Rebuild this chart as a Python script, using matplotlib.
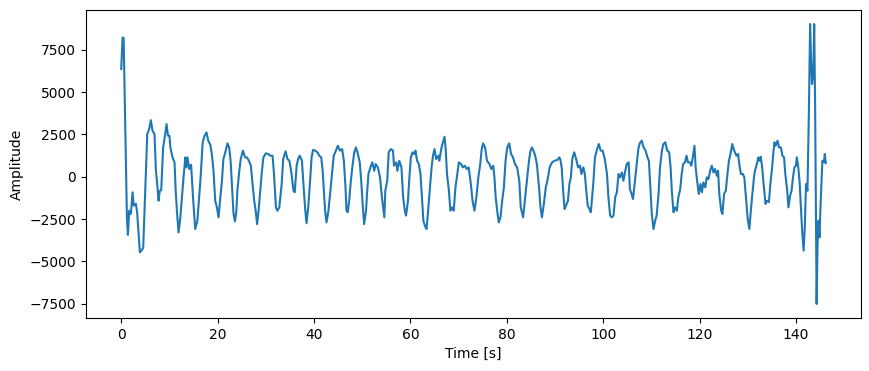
import matplotlib
matplotlib.use("Agg")
import matplotlib.pyplot as plt

# values
time = [0.0, 0.28, 0.5, 1.18, 1.38, 1.66, 2.0, 2.35, 2.6, 3.04, 3.3, 3.87, 4.29, 4.56,
        4.98, 5.4, 5.8, 6.15, 6.5, 6.9, 7.2, 7.47, 7.75, 8.0, 8.3, 8.7, 9.13, 9.4,
        9.7, 10.0, 10.2, 10.65, 11.06, 11.3, 11.6, 11.9, 12.24, 12.6, 12.9, 13.3,
        13.5, 13.75, 14.1, 14.5, 14.9, 15.35, 15.8, 16.2, 16.45, 16.9, 17.3, 17.7,
        18.05, 18.5, 18.8, 19.15, 19.5, 19.85, 20.2, 20.5, 20.9, 21.2, 21.6, 22.05,
        22.4, 22.7, 23.0, 23.3, 23.6, 23.9, 24.1, 24.5, 24.8, 25.25, 25.7, 26.1,
        26.5, 26.9, 27.25, 27.6, 27.9, 28.2, 28.5, 28.8, 29.2, 29.5, 30.0, 30.5,
        30.9, 31.4, 31.7, 32.1, 32.4, 32.8, 33.3, 33.6, 34.1, 34.5, 34.9, 35.3,
        35.75, 36.0, 36.4, 36.7, 37.05, 37.5, 37.9, 38.2, 38.45, 38.8, 39.15, 39.5,
        39.8, 40.25, 40.7, 41.1, 41.5, 41.8, 42.05, 42.3, 42.6, 43.0, 43.4, 43.8,
        44.1, 44.55, 44.95, 45.4, 45.85, 46.2, 46.5, 46.75, 47.0, 47.3, 47.65, 48.0,
        48.35, 48.7, 49.1, 49.5, 49.8, 50.1, 50.4, 50.8, 51.0, 51.3, 51.7, 52.1,
        52.5, 52.8, 53.25, 53.7, 54.1, 54.6, 54.8, 55.2, 55.5, 55.95, 56.4, 56.6,
        57.05, 57.3, 57.7, 58.15, 58.5, 58.85, 59.1, 59.5, 59.75, 60.1, 60.45, 60.8,
        61.05, 61.4, 61.75, 62.1, 62.45, 62.7, 63.0, 63.35, 63.6, 63.95, 64.4, 64.7,
        65.0, 65.35, 65.8, 66.0, 66.4, 66.75, 67.1, 67.35, 67.6, 68.0, 68.3, 68.7,
        69.0, 69.35, 69.7, 70.05, 70.5, 70.9, 71.3, 71.7, 72.1, 72.55, 72.9, 73.3,
        73.7, 74.1, 74.5, 74.8, 75.1, 75.5, 75.9, 76.4, 76.8, 77.2, 77.45, 77.7,
        78.1, 78.35, 78.7, 79.05, 79.4, 79.75, 80.1, 80.5, 80.9, 81.3, 81.7, 82.15,
        82.6, 82.9, 83.4, 83.75, 84.1, 84.5, 84.85, 85.2, 85.55, 85.9, 86.25, 86.7,
        87.0, 87.3, 87.7, 88.1, 88.5, 88.9, 89.4, 89.9, 90.5, 90.9, 91.1, 91.4,
        91.7, 92.0, 92.3, 92.7, 93.0, 93.3, 93.6, 94.0, 94.4, 94.8, 95.2, 95.5,
        95.9, 96.2, 96.5, 96.8, 97.15, 97.45, 97.7, 98.0, 98.3, 98.7, 99.1, 99.5,
        99.9, 100.35, 100.8, 101.1, 101.45, 101.8, 102.15, 102.5, 102.85, 103.2,
        103.5, 103.9, 104.2, 104.6, 104.9, 105.3, 105.55, 105.9, 106.2, 106.6,
        106.9, 107.3, 107.6, 108.0, 108.4, 108.8, 109.2, 109.5, 109.8, 110.1,
        110.45, 110.8, 111.1, 111.5, 111.8, 112.2, 112.5, 112.9, 113.3, 113.7,
        114.0, 114.25, 114.6, 114.9, 115.3, 115.6, 116.0, 116.3, 116.6, 117.0,
        117.3, 117.6, 118.0, 118.3, 118.6, 118.95, 119.2, 119.5, 119.85, 120.2,
        120.5, 120.8, 121.2, 121.5, 121.85, 122.2, 122.55, 122.9, 123.2, 123.6,
        123.85, 124.1, 124.5, 124.75, 125.1, 125.45, 125.8, 126.1, 126.5, 126.8,
        127.2, 127.65, 128.0, 128.3, 128.6, 129.0, 129.3, 129.7, 130.0, 130.35,
        130.65, 130.9, 131.3, 131.5, 131.9, 132.2, 132.45, 132.7, 133.0, 133.3,
        133.7, 134.0, 134.4, 134.7, 135.0, 135.3, 135.55, 135.8, 136.2, 136.5,
        136.9, 137.2, 137.55, 137.8, 138.2, 138.45, 138.8, 139.1, 139.4, 139.7,
        140.0, 140.2, 140.5, 140.8, 141.0, 141.3, 141.6, 141.85, 142.1, 142.4,
        142.7, 142.95, 143.15, 143.35, 143.6, 143.8, 144.0, 144.2, 144.3, 144.5,
        144.7, 144.9, 145.1, 145.3, 145.5, 145.8, 146.0, 146.2]

amplitude = [6360, 8220, 8200, -2400, -3430, -2000, -2200, -925, -1710, -1600, -2100,
             -4470, -4330, -4200, -925, 2520, 2810, 3340, 2710, 2520, 350, -430, -1420,
             -830, -800, 1730, 2520, 3110, 2420, 2420, 1730, 1140, 850, -830, -2200,
             -3290, -2500, -1220, -140, 1140, 550, 1140, 450, 710, -1220, -3090, -2600,
             -1120, -140, 2030, 2420, 2620, 2130, 1870, 1340, 350, -1420, -1810, -2400,
             -1420, -240, 1040, 1440, 1970, 1730, 940, -630, -2200, -2640, -2010, -830,
             350, 1040, 1540, 1140, 1140, 940, 650, -430, -1420, -2010, -2800, -2010,
             -1020, 350, 1140, 1380, 1340, 1240, 1240, 160, -1810, -2010, -1810, -430,
             1040, 1500, 1040, 940, 250, -830, -920, 650, 1040, 1240, 940, -830, -2010,
             -2750, -1810, -430, 1140, 1580, 1540, 1440, 1240, 1140, 350, -830, -2010,
             -2700, -2010, -830, 350, 1240, 1540, 1830, 1540, 1630, 940, -430, -2010,
             -2100, -1420, -240, 650, 1440, 1730, 1340, 850, -240, -1610, -2800, -2010,
             -1020, 160, 550, 850, 350, 750, 550, -40, -1220, -2400, -830, -240, 1440,
             1630, 1540, 650, 850, 350, 940, 550, -1220, -2010, -2300, -1420, -240,
             1140, 1440, 1340, 1540, 940, 750, 160, -1420, -2600, -2890, -3090, -2300,
             -1020, 550, 1240, 1630, 1040, 1240, 940, 1630, 2030, 2360, 1540, 160, -830,
             -2010, -1810, -2010, -630, 60, 850, 750, 550, 650, 450, 550, -430, -1420,
             -2010, -1220, -40, 750, 1630, 1970, 1730, 940, 750, 450, 650, -40, -1220,
             -2200, -2700, -2400, -1420, -630, 940, 1730, 1970, 1340, 1140, 750, 550,
             -240, -1810, -2400, -1420, -430, 650, 1440, 1730, 1540, 1240, 750, -630,
             -1810, -2400, -1610, -630, -140, 550, 850, 940, 990, 1140, 1040, 550,
             -830, -1910, -1710, -1420, -430, -40, 1040, 1440, 1040, 550, 650, 160,
             550, 160, -830, -1710, -1910, -2100, -1220, -240, 1140, 1580, 1930, 1540,
             1540, 1040, 160, -1220, -2300, -2400, -2300, -1220, -920, 160, -40, 250,
             -240, 350, 750, 850, -730, -1020, -1320, -240, 550, 1630, 1970, 2130,
             1730, 1540, 1140, 940, -630, -2200, -3090, -2600, -2300, -1020, 550, 1540,
             1930, 2030, 1540, 1440, 550, -830, -2100, -1810, -2010, -1220, -730, 160,
             750, 850, 1240, 850, 850, 650, 1140, 1830, 550, -240, -1020, -430, -920,
             -340, -630, -40, -140, 350, 650, 250, 450, 60, 350, -1020, -2010, -2200,
             -1020, -830, 160, 940, 1440, 1930, 1540, 1240, 1340, 650, 160, 160, -40,
             -1420, -2500, -3090, -2010, -1220, -40, 350, 750, 1140, 940, 1180, 550,
             -430, -1610, -1420, -1500, -430, 350, 1340, 2030, 1830, 2130, 1730, 1730,
             1240, 1140, 160, -830, -1810, -1120, -830, -40, 550, 650, 1140, 550, -430,
             -1610, -3190, -4370, -2990, -430, -830, 3900, 9020, 6850, 5470, 6000,
             9020, 3900, -3970, -7520, -3970, -2600, -3580, -1810, -430, 940, 850,
             1340, 800]

fig = plt.figure(figsize=(8.7, 3.71), dpi=100)
ax = fig.add_axes([86 / 870, 53 / 371, 775 / 870, 308 / 371])

ax.plot(time, amplitude)

ax.set_xlabel("Time [s]")
ax.set_ylabel("Amplitude")

fig.savefig("out.png", dpi=100)
